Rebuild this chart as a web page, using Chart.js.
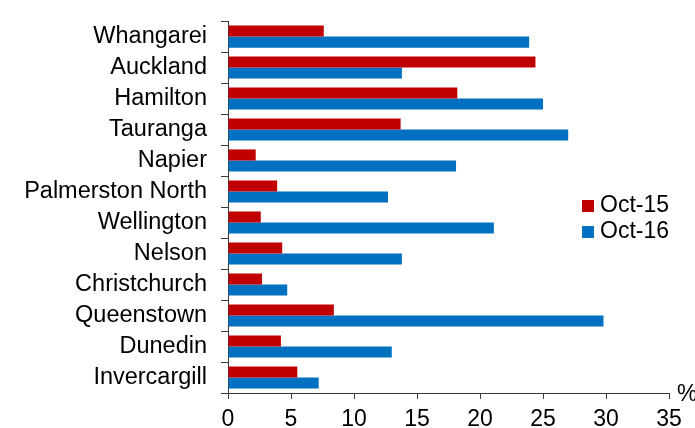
<!DOCTYPE html>
<html>
<head>
<meta charset="utf-8">
<script src="https://cdn.jsdelivr.net/npm/chart.js@4.4.1/dist/chart.umd.min.js"></script>
<style>
  html, body { margin: 0; padding: 0; background: #fff; }
  #wrap { width: 695px; height: 428px; position: relative; }
</style>
</head>
<body>
<div id="wrap"><canvas id="rentChart" width="695" height="428"></canvas></div>
<script>
// --- Data ---
const cities = ['Whangarei', 'Auckland', 'Hamilton', 'Tauranga', 'Napier', 'Palmerston North',
  'Wellington', 'Nelson', 'Christchurch', 'Queenstown', 'Dunedin', 'Invercargill'];
const oct15 = [7.6, 24.4, 18.2, 13.7, 2.2, 3.9, 2.6, 4.3, 2.7, 8.4, 4.2, 5.5];
const oct16 = [23.9, 13.8, 25.0, 27.0, 18.1, 12.7, 21.1, 13.8, 4.7, 29.8, 13.0, 7.2];
const xTicks = [0, 5, 10, 15, 20, 25, 30, 35];
const seriesNames = ['Oct-15', 'Oct-16'];
const seriesColors = ['#C00000', '#0070C0'];

const FONT = "'Liberation Sans', Arial, sans-serif";
const AXIS = '#3a3a3a';

// legend drawn inside the plot, right of the short bars
const sideLegend = {
  id: 'sideLegend',
  afterDraw(chart) {
    const ctx = chart.ctx;
    const x0 = chart.chartArea.right - 87;
    const y0 = 206;
    ctx.save();
    ctx.font = '23px ' + FONT;
    ctx.textBaseline = 'middle';
    ctx.textAlign = 'left';
    chart.data.datasets.forEach((ds, i) => {
      const y = y0 + i * 26;
      ctx.fillStyle = ds.backgroundColor;
      ctx.fillRect(x0, y - 6, 12, 12);
      ctx.fillStyle = '#000';
      ctx.fillText(ds.label, x0 + 18, y);
    });
    ctx.restore();
  }
};

// unit label at the end of the value axis
const unitLabel = {
  id: 'unitLabel',
  afterDraw(chart) {
    const ctx = chart.ctx;
    ctx.save();
    ctx.font = '23px ' + FONT;
    ctx.fillStyle = '#000';
    ctx.textAlign = 'left';
    ctx.textBaseline = 'alphabetic';
    ctx.fillText('%', chart.chartArea.right + 8, chart.chartArea.bottom + 8);
    ctx.restore();
  }
};

new Chart(document.getElementById('rentChart'), {
  type: 'bar',
  data: {
    labels: cities,
    datasets: [
      { label: seriesNames[0], data: oct15, backgroundColor: seriesColors[0] },
      { label: seriesNames[1], data: oct16, backgroundColor: seriesColors[1] }
    ]
  },
  options: {
    indexAxis: 'y',
    responsive: false,
    animation: false,
    categoryPercentage: 0.715,
    barPercentage: 1.0,
    layout: { padding: { top: 19, right: 26, left: 0, bottom: 0 } },
    plugins: { legend: { display: false }, tooltip: { enabled: false } },
    scales: {
      x: {
        min: 0,
        max: 35,
        afterBuildTicks(scale) { scale.ticks = xTicks.map(v => ({ value: v })); },
        afterFit(scale) { scale.height = 428 - 393; },
        border: { display: true, color: AXIS, width: 1 },
        grid: { display: true, drawOnChartArea: false, drawTicks: true, tickLength: 6, color: AXIS },
        ticks: { color: '#000', font: { family: FONT, size: 23 }, padding: 7, maxRotation: 0 }
      },
      y: {
        afterFit(scale) { scale.width = 228; },
        border: { display: true, color: AXIS, width: 1 },
        grid: { display: true, drawOnChartArea: false, drawTicks: true, tickLength: 7, color: AXIS, offset: true },
        ticks: { color: '#000', font: { family: FONT, size: 23.5, lineHeight: 0.6 }, padding: 14, autoSkip: false }
      }
    }
  },
  plugins: [sideLegend, unitLabel]
});
</script>
</body>
</html>
